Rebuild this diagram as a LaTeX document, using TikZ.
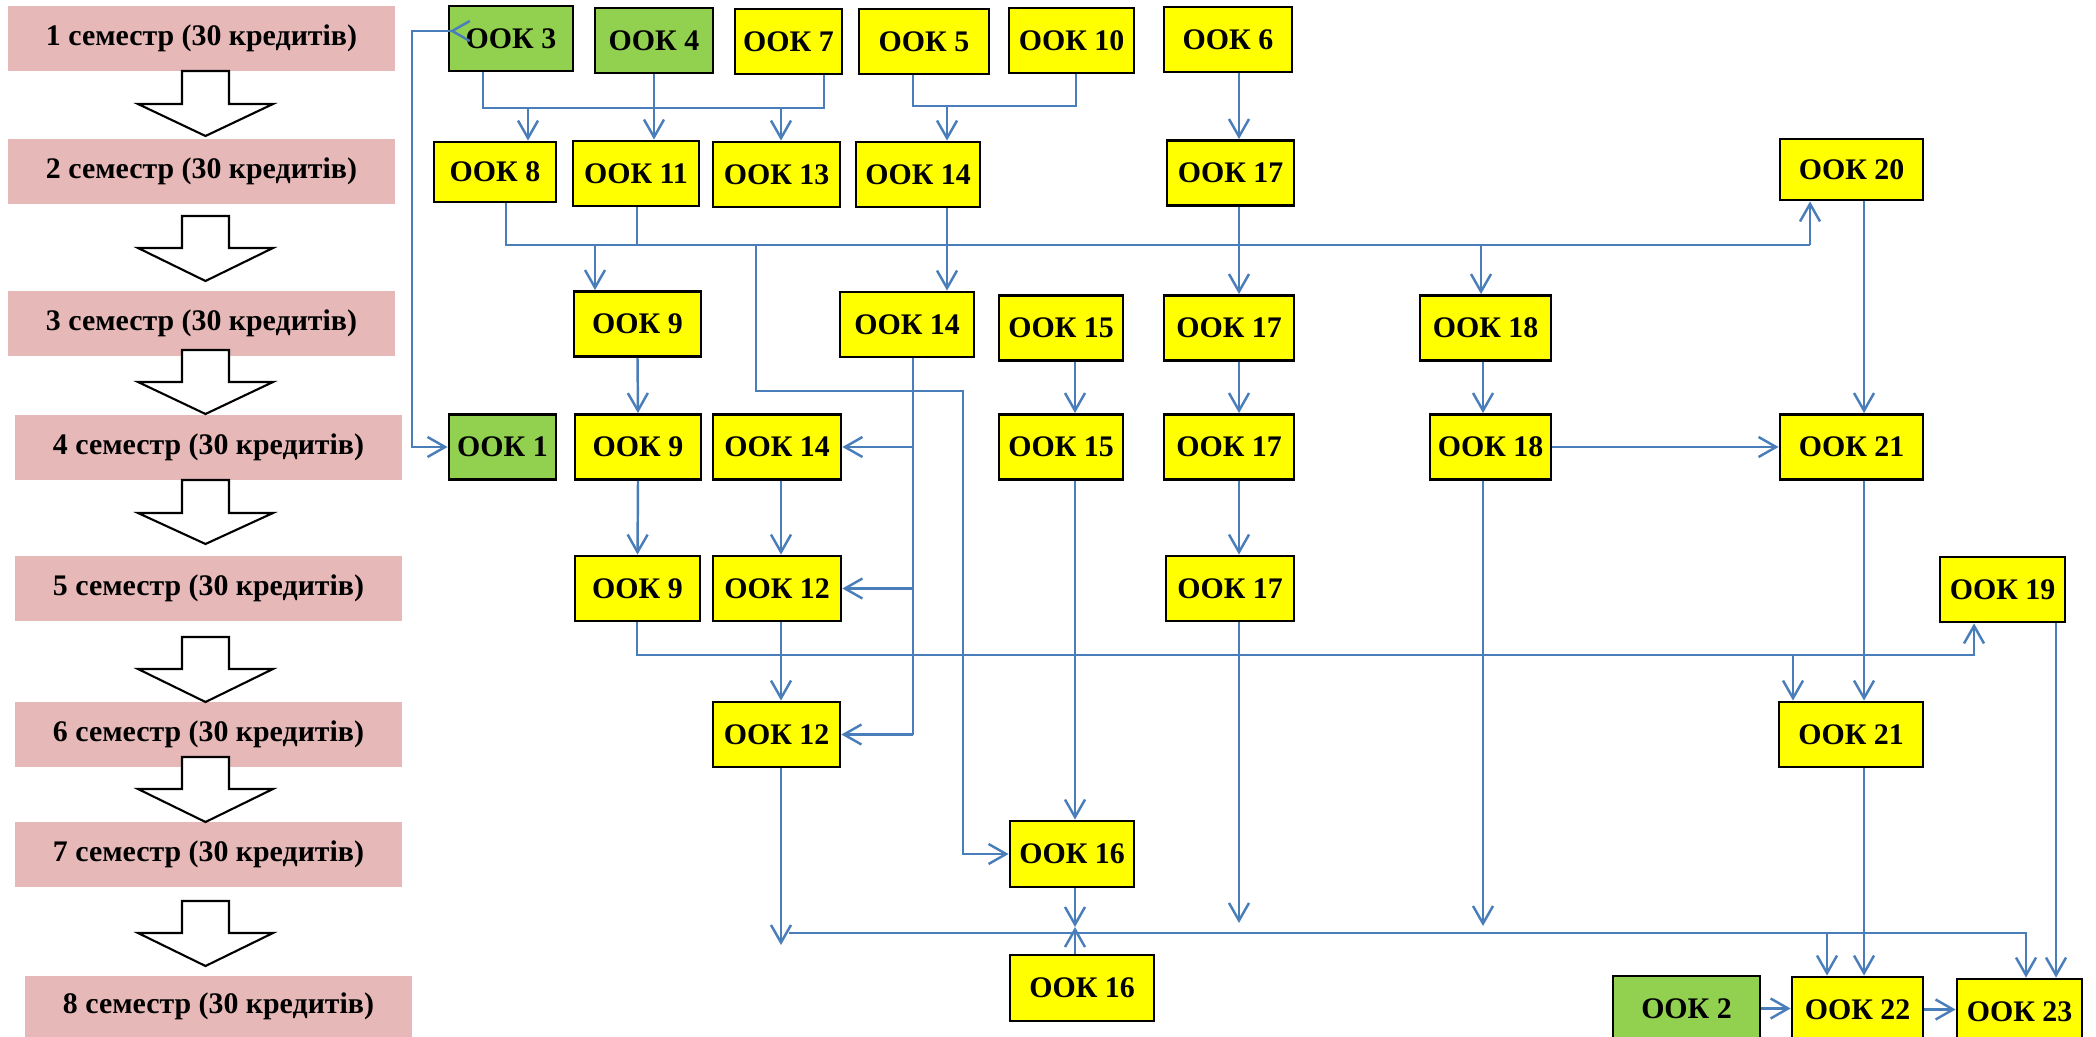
\documentclass[tikz,border=0pt]{standalone}
\usepackage{fontspec}
\setmainfont{Liberation Serif}
\usetikzlibrary{arrows.meta}
\definecolor{ookyellow}{HTML}{FFFF00}
\definecolor{ookgreen}{HTML}{92D050}
\definecolor{sempink}{HTML}{E6B9B8}
\definecolor{flowblue}{HTML}{4A7EBB}
\tikzset{
  sem/.style={fill=sempink, minimum width=3.87cm, minimum height=0.65cm, inner sep=0pt,
    font=\fontsize{8.5}{10}\selectfont\bfseries},
  ook/.style={draw, line width=0.8pt, fill=ookyellow, minimum height=0.65cm, inner sep=0pt,
    font=\fontsize{8.5}{10}\selectfont\bfseries},
  ookg/.style={ook, fill=ookgreen},
  link/.style={draw=flowblue, line width=0.7pt},
  flow/.style={link, -{Straight Barb[length=5pt,width=5.7pt]}},
  semarrow/.style={draw, fill=white, line width=0.6pt}
}
\begin{document}
\begin{tikzpicture}
    \useasboundingbox (0,0) rectangle (20.96,-10.37);

    % semesters
    \node[sem] (s1) at (2.015,-0.385) {1 семестр (30 кредитів)};
    \node[sem] (s2) at (2.015,-1.715) {2 семестр (30 кредитів)};
    \node[sem] (s3) at (2.015,-3.235) {3 семестр (30 кредитів)};
    \node[sem] (s4) at (2.085,-4.475) {4 семестр (30 кредитів)};
    \node[sem] (s5) at (2.085,-5.885) {5 семестр (30 кредитів)};
    \node[sem] (s6) at (2.085,-7.345) {6 семестр (30 кредитів)};
    \node[sem] (s7) at (2.085,-8.545) {7 семестр (30 кредитів)};
    \node[sem,minimum height=0.62cm] (s8) at (2.185,-10.065) {8 семестр (30 кредитів)};

    \foreach \t/\s/\e in {0.71/1.04/1.36, 2.16/2.48/2.81, 3.50/3.82/4.14, 4.80/5.13/5.44,
                          6.37/6.69/7.02, 7.57/7.89/8.22, 9.01/9.33/9.66}
      \draw[semarrow] (1.82,-\t) -- (1.82,-\s) -- (1.38,-\s) -- (2.055,-\e)
        -- (2.73,-\s) -- (2.29,-\s) -- (2.29,-\t) -- cycle;

    % row 1
    \node[ookg,minimum width=1.24cm] (o3) at (5.11,-0.385) {ООК 3};
    \node[ookg,minimum width=1.18cm] (o4) at (6.54,-0.405) {ООК 4};
    \node[ook,minimum width=1.07cm] (o7) at (7.885,-0.415) {ООК 7};
    \node[ook,minimum width=1.30cm] (o5) at (9.24,-0.415) {ООК 5};
    \node[ook,minimum width=1.25cm] (o10) at (10.715,-0.405) {ООК 10};
    \node[ook,minimum width=1.28cm] (o6) at (12.28,-0.395) {ООК 6};

    % row 2
    \node[ook,minimum width=1.22cm,minimum height=0.60cm] (o8) at (4.95,-1.72) {ООК 8};
    \node[ook,minimum width=1.26cm] (o11) at (6.36,-1.735) {ООК 11};
    \node[ook,minimum width=1.27cm] (o13) at (7.765,-1.745) {ООК 13};
    \node[ook,minimum width=1.24cm] (o14a) at (9.18,-1.745) {ООК 14};
    \node[ook,minimum width=1.27cm] (o17a) at (12.305,-1.73) {ООК 17};
    \node[ook,minimum width=1.43cm,minimum height=0.61cm] (o20) at (18.515,-1.695) {ООК 20};

    % row 3
    \node[ook,minimum width=1.27cm] (o9a) at (6.375,-3.24) {ООК 9};
    \node[ook,minimum width=1.34cm] (o14b) at (9.07,-3.245) {ООК 14};
    \node[ook,minimum width=1.24cm] (o15a) at (10.61,-3.28) {ООК 15};
    \node[ook,minimum width=1.30cm] (o17b) at (12.29,-3.28) {ООК 17};
    \node[ook,minimum width=1.31cm] (o18a) at (14.855,-3.28) {ООК 18};

    % row 4
    \node[ookg,minimum width=1.07cm] (o1) at (5.025,-4.47) {ООК 1};
    \node[ook,minimum width=1.26cm] (o9b) at (6.38,-4.47) {ООК 9};
    \node[ook,minimum width=1.28cm] (o14c) at (7.77,-4.47) {ООК 14};
    \node[ook,minimum width=1.24cm] (o15b) at (10.61,-4.47) {ООК 15};
    \node[ook,minimum width=1.30cm] (o17c) at (12.29,-4.47) {ООК 17};
    \node[ook,minimum width=1.21cm] (o18b) at (14.905,-4.47) {ООК 18};
    \node[ook,minimum width=1.43cm] (o21a) at (18.515,-4.47) {ООК 21};

    % row 5
    \node[ook,minimum width=1.25cm] (o9c) at (6.375,-5.885) {ООК 9};
    \node[ook,minimum width=1.28cm] (o12a) at (7.77,-5.885) {ООК 12};
    \node[ook,minimum width=1.28cm] (o17d) at (12.30,-5.885) {ООК 17};
    \node[ook,minimum width=1.25cm] (o19) at (20.025,-5.895) {ООК 19};

    % rows 6-8
    \node[ook,minimum width=1.27cm] (o12b) at (7.765,-7.345) {ООК 12};
    \node[ook,minimum width=1.44cm] (o21b) at (18.51,-7.345) {ООК 21};
    \node[ook,minimum width=1.24cm,minimum height=0.66cm] (o16a) at (10.72,-8.54) {ООК 16};
    \node[ook,minimum width=1.44cm,minimum height=0.66cm] (o16b) at (10.82,-9.88) {ООК 16};
    \node[ookg,minimum width=1.47cm] (o2) at (16.865,-10.085) {ООК 2};
    \node[ook,minimum width=1.31cm] (o22) at (18.575,-10.095) {ООК 22};
    \node[ook,minimum width=1.25cm] (o23) at (20.195,-10.115) {ООК 23};

    % bus points and columns
    \coordinate (a1) at (4.83,-1.08);  \coordinate (a3) at (8.24,-1.08);
    \coordinate (a4) at (5.28,-1.08);  \coordinate (a5) at (7.81,-1.08);
    \coordinate (b1) at (9.13,-1.06);  \coordinate (b2) at (10.76,-1.06);
    \coordinate (b3) at (9.47,-1.06);
    \coordinate (c1) at (5.06,-2.45);  \coordinate (c2) at (6.37,-2.45);
    \coordinate (c3) at (5.95,-2.45);  \coordinate (c4) at (7.56,-2.45);
    \coordinate (c5) at (14.81,-2.45); \coordinate (c6) at (18.10,-2.45);
    \coordinate (k1) at (9.63,-3.91);
    \coordinate (col14) at (9.13,-7.345);
    \coordinate (col12) at (7.81,0);   \coordinate (col15) at (10.75,0);
    \coordinate (col17) at (12.39,0);  \coordinate (col18) at (14.83,0);
    \coordinate (col21) at (18.64,0);  \coordinate (col19) at (20.56,0);
    \coordinate (d1) at (6.37,-6.55);  \coordinate (d2) at (19.74,-6.55);
    \coordinate (d3) at (17.93,-6.55);
    \coordinate (e1) at (7.89,-9.33);  \coordinate (e2) at (20.26,-9.33);
    \coordinate (e3) at (18.27,-9.33);
    \coordinate (f17) at (12.39,-9.23); \coordinate (f18) at (14.83,-9.26);
    \coordinate (f12) at (7.81,-9.45);  \coordinate (m16) at (10.75,-9.27);
    \coordinate (lp) at (4.12,-0.31);   \coordinate (l3) at (4.71,-0.31);

    % semester 1 -> 2
    \draw[link] (a1 |- o3.south) |- (a3) -- (a3 |- o7.south);
    \draw[flow] (o4.south) -- (o4.south |- o11.north);
    \draw[flow] (a4) -- (a4 |- o8.north);
    \draw[flow] (a5) -- (a5 |- o13.north);
    \draw[link] (b1 |- o5.south) |- (b2) -- (b2 |- o10.south);
    \draw[flow] (b3) -- (b3 |- o14a.north);
    \draw[flow] (col17 |- o6.south) -- (col17 |- o17a.north);
    \draw[link,{Straight Barb[length=5pt,width=5.7pt]}-{Straight Barb[length=5pt,width=5.7pt,reversed]}]
      (o1.west) -| (lp) -- (l3);

    % semester 2 -> 3
    \draw[link] (c1 |- o8.south) |- (c6);
    \draw[flow] (c6) -- (c6 |- o20.south);
    \draw[link] (c2 |- o11.south) -- (c2);
    \draw[flow] (c3) -- (c3 |- o9a.north);
    \draw[flow] (c5) -- (c5 |- o18a.north);
    \draw[flow] (c4) |- (k1) |- (o16a.west);
    \draw[flow] (b3 |- o14a.south) -- (b3 |- o14b.north);
    \draw[flow] (col17 |- o17a.south) -- (col17 |- o17b.north);

    % semester 3 -> 4
    \draw[flow] (o9a.south) -- (o9b.north);
    \draw[flow] (col15 |- o15a.south) -- (col15 |- o15b.north);
    \draw[flow] (col17 |- o17b.south) -- (col17 |- o17c.north);
    \draw[flow] (col18 |- o18a.south) -- (col18 |- o18b.north);
    \draw[link] (col14 |- o14b.south) -- (col14);
    \draw[flow] (col14 |- o14c.east) -- (o14c.east);
    \draw[flow] (col14 |- o12a.east) -- (o12a.east);
    \draw[flow] (col14) -- (o12b.east);
    \draw[flow] (col21 |- o20.south) -- (col21 |- o21a.north);
    \draw[flow] (o18b.east) -- (o21a.west);

    % semester 4 -> 5
    \draw[flow] (o9b.south) -- (o9c.north);
    \draw[flow] (col12 |- o14c.south) -- (col12 |- o12a.north);
    \draw[flow] (col17 |- o17c.south) -- (col17 |- o17d.north);
    \draw[flow] (col15 |- o15b.south) -- (col15 |- o16a.north);
    \draw[flow] (col18 |- o18b.south) -- (f18);
    \draw[flow] (col21 |- o21a.south) -- (col21 |- o21b.north);

    % semester 5 -> 6
    \draw[flow] (d1 |- o9c.south) |- (d2) -- (d2 |- o19.south);
    \draw[flow] (d3) -- (d3 |- o21b.north);
    \draw[flow] (col12 |- o12a.south) -- (col12 |- o12b.north);
    \draw[flow] (col17 |- o17d.south) -- (f17);
    \draw[flow] (col19 |- o19.south) -- (col19 |- o23.north);

    % semester 6 -> 8
    \draw[flow] (col12 |- o12b.south) -- (f12);
    \draw[flow] (col21 |- o21b.south) -- (col21 |- o22.north);
    \draw[flow] (e1) -- (e2) -- (e2 |- o23.north);
    \draw[flow] (e3) -- (e3 |- o22.north);
    \draw[flow] (col15 |- o16a.south) -- (m16);
    \draw[flow] (col15 |- o16b.north) -- (m16);
    \draw[flow] (o2.east) -- (o2.east -| o22.west);
    \draw[flow] (o22.east) -- (o22.east -| o23.west);
  \end{tikzpicture}
\end{document}
